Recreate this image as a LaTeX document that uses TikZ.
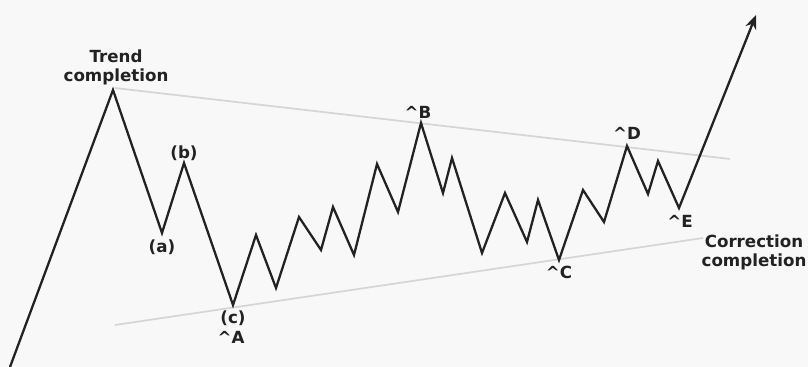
\documentclass[tikz,border=0pt]{standalone}
\usepackage{fontspec}
\usepackage{xcolor}
\setmainfont{DejaVu Sans}
\usetikzlibrary{arrows.meta}
\definecolor{c1}{HTML}{222222}
\definecolor{c2}{HTML}{D6D6D6}
\definecolor{c3}{HTML}{F8F8F8}
\tikzset{
  wave/.style={c1, line width=1.3pt, line join=miter},
  trendline/.style={c2, line width=1pt},
  lbl/.style={c1, font=\bfseries\fontsize{9.5}{10.8}\selectfont, inner sep=0pt, align=center}
}

\begin{document}
\begin{tikzpicture}[x=0.02cm, y=-0.02cm]
  \fill[c3] (0,0) rectangle (808,367);
  \useasboundingbox (0,0) rectangle (808,367);
  % Wave points
  \foreach \x/\y [count=\i from 0] in {10/367,113/90,162/233,184/163,233/305,
      256/235,276/288,299/217,321/250,333/207,354/255,377/164,398/212,
      421/123,443/193,452/158,482/253,505/193,527/242,538/200,559/260,
      583/190,604/222,627/146,648/194,658/161,679/208,756/15}{
    \coordinate (p\i) at (\x,\y);
  }
  % Triangle borders
  \coordinate (u1) at (115,88);
  \coordinate (u2) at (730,159);
  \coordinate (l1) at (115,325);
  \coordinate (l2) at (703,238);
  \draw[trendline] (u1) -- (u2);
  \draw[trendline] (l1) -- (l2);
  % Price path
  \draw[wave, -{Stealth[length=8pt, width=6.5pt]}] (p0)
    \foreach \i in {1,...,27}{ -- (p\i) };
  % Labels
  \node[lbl] (trend) at (116,67) {Trend\\completion};
  \node[lbl] (la) at (162,247) {(a)};
  \node[lbl] (lb) at (184,153) {(b)};
  \node[lbl] (lc) at (233,318) {(c)};
  \node[lbl] (lA) at (231,337) {\textasciicircum A};
  \node[lbl] (lB) at (418,112) {\textasciicircum B};
  \node[lbl] (lC) at (559,272) {\textasciicircum C};
  \node[lbl] (lD) at (627,133) {\textasciicircum D};
  \node[lbl] (lE) at (680,221) {\textasciicircum E};
  \node[lbl] (corr) at (754,252) {Correction\\completion};
\end{tikzpicture}
\end{document}
